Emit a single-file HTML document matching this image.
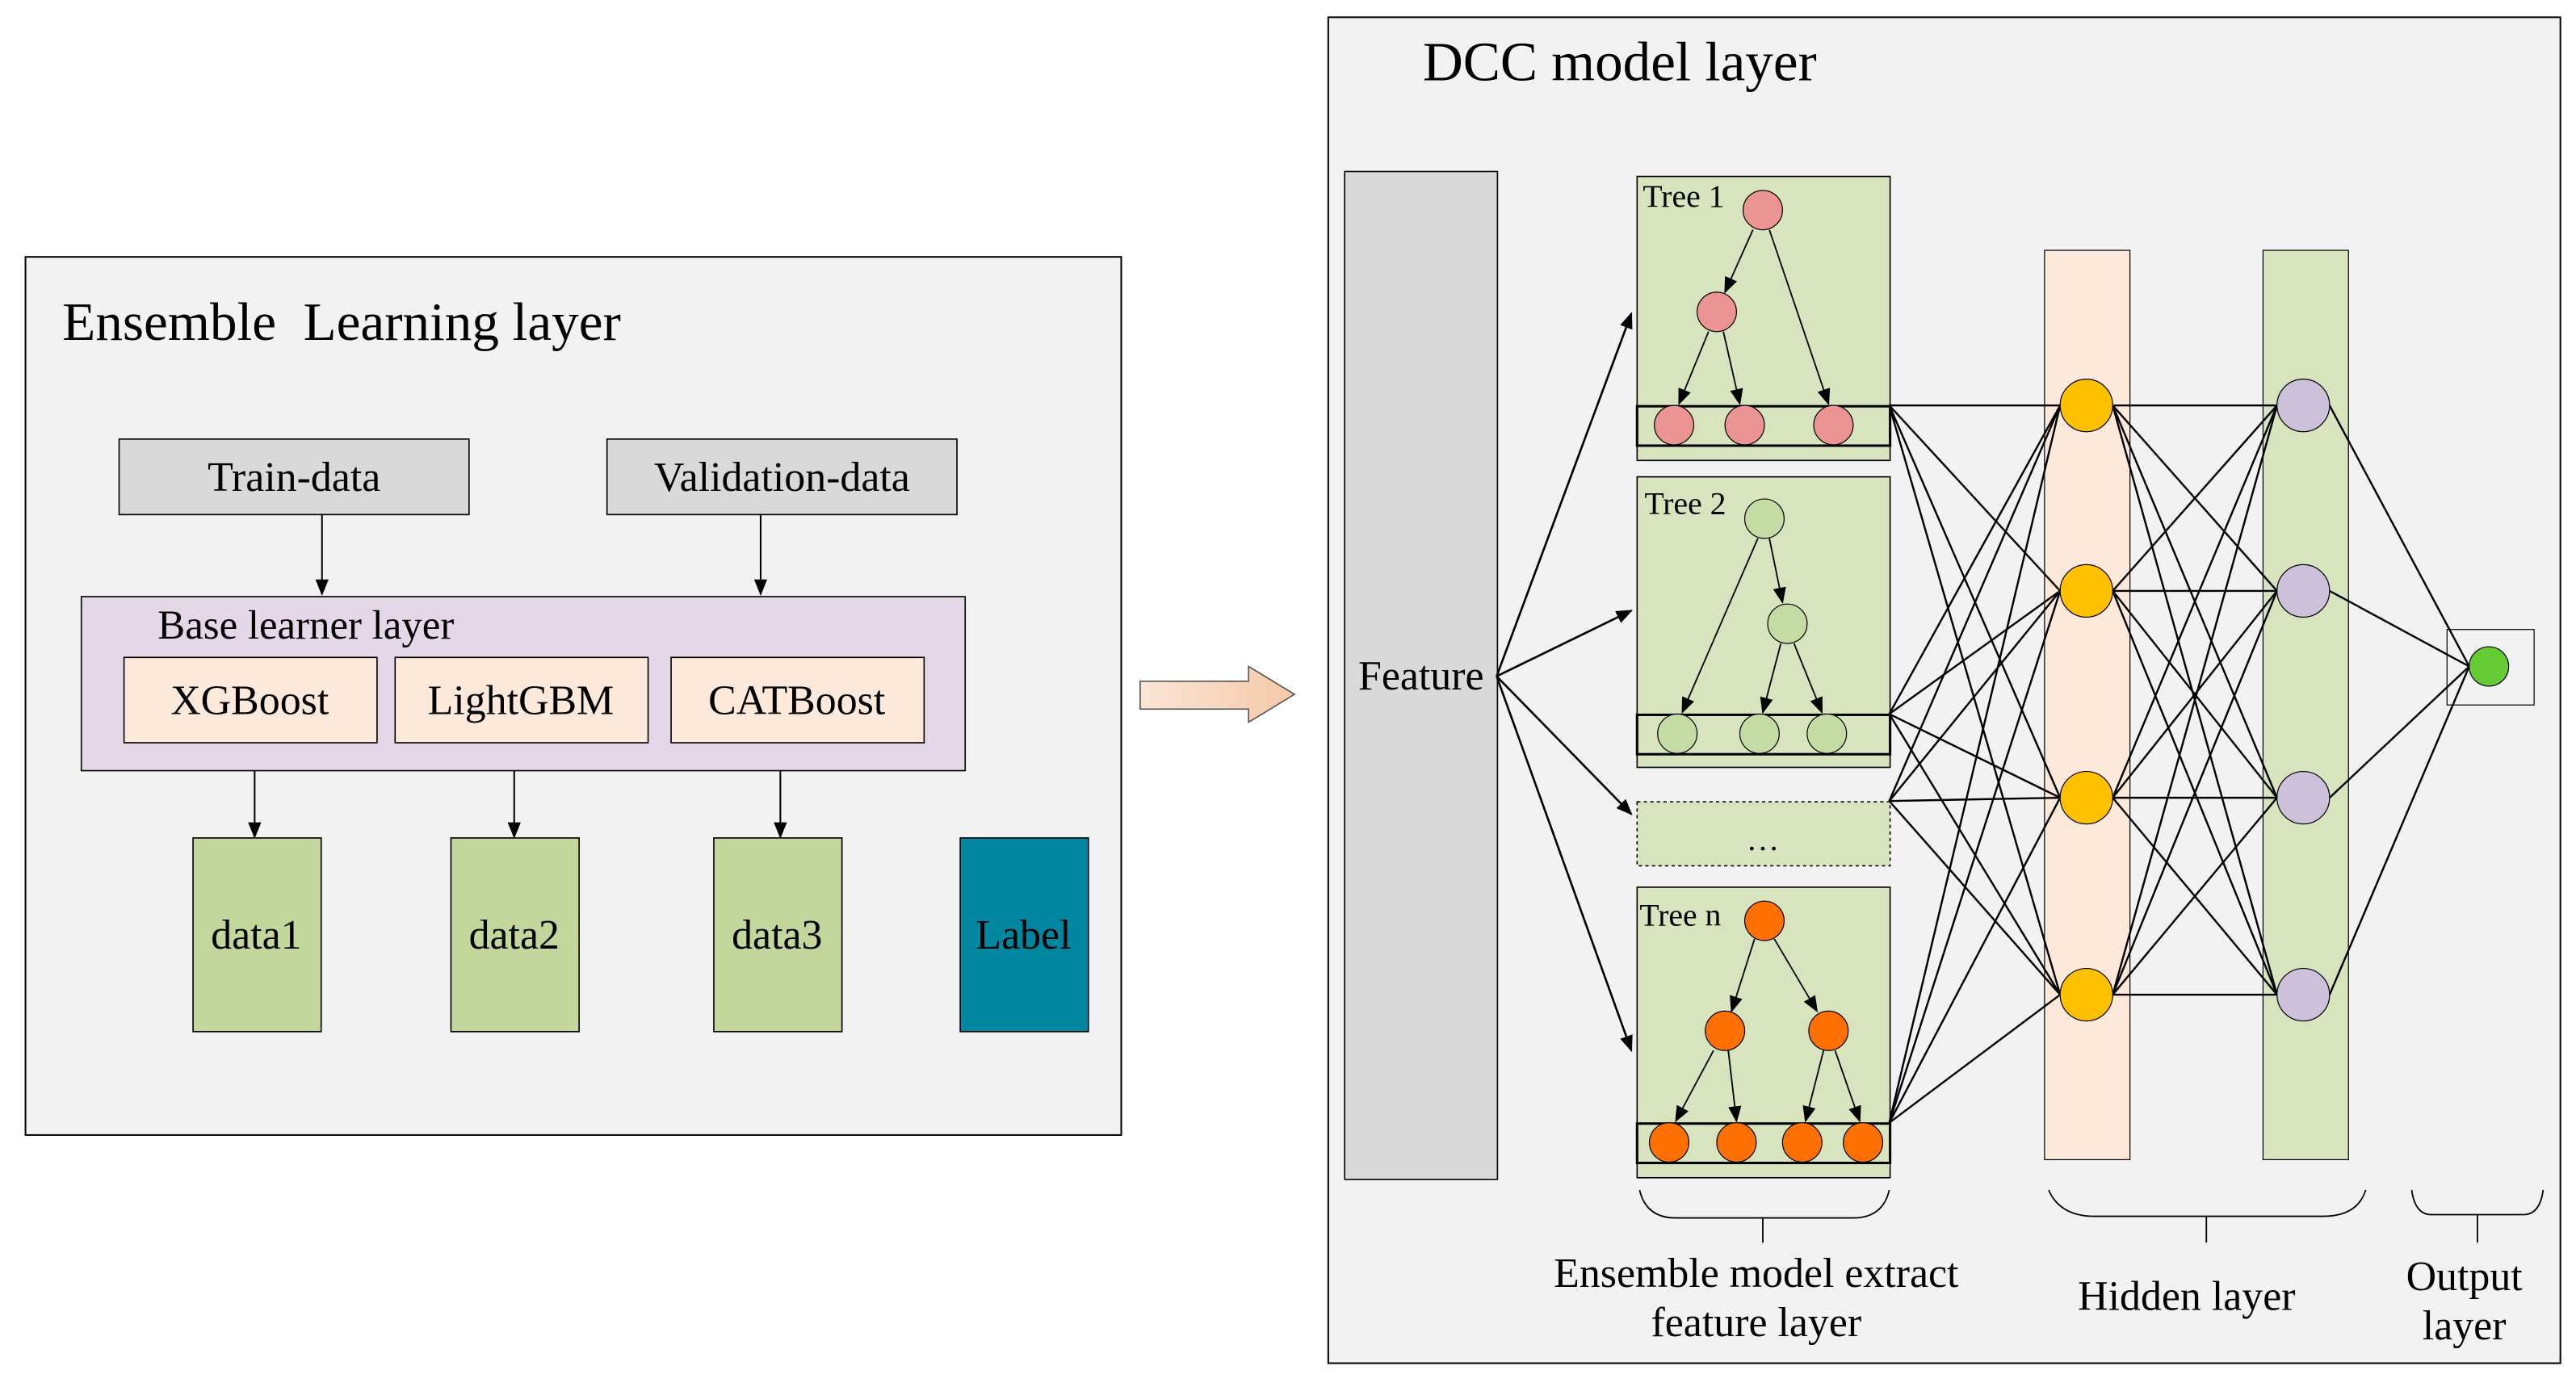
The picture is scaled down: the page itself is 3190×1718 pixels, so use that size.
<!DOCTYPE html>
<html><head><meta charset="utf-8"><style>html,body{margin:0;padding:0;background:#fff}svg{display:block}</style></head>
<body>
<svg width="3190" height="1718" viewBox="0 0 1568 845" preserveAspectRatio="none" xmlns="http://www.w3.org/2000/svg" font-family="Liberation Serif, serif">
<defs>
<marker id="a" markerWidth="10" markerHeight="8" refX="9" refY="4" orient="auto" markerUnits="userSpaceOnUse"><path d="M0,0 L10,4 L0,8 z" fill="#000"/></marker>
<linearGradient id="g" x1="0" x2="1"><stop offset="0" stop-color="#fbe5d6"/><stop offset="1" stop-color="#f4c9a8"/></linearGradient>
</defs>
<rect width="1568" height="845" fill="#fff"/>
<rect x="15.5" y="156.5" width="667" height="535" fill="#f2f2f2" stroke="#000"/>
<text x="38" y="207" font-size="33">Ensemble&#160; Learning layer</text>
<rect x="72.5" y="267.5" width="213" height="46" fill="#d9d9d9" stroke="#000" stroke-width="0.8"/>
<text x="179" y="299" font-size="25.5" text-anchor="middle">Train-data</text>
<rect x="369.5" y="267.5" width="213" height="46" fill="#d9d9d9" stroke="#000" stroke-width="0.8"/>
<text x="476" y="299" font-size="25.5" text-anchor="middle">Validation-data</text>
<g stroke="#000" stroke-width="1" marker-end="url(#a)">
<line x1="196" y1="313" x2="196" y2="362"/><line x1="463" y1="313" x2="463" y2="362"/>
<line x1="155" y1="452" x2="155" y2="510"/><line x1="313" y1="452" x2="313" y2="510"/><line x1="475" y1="452" x2="475" y2="510"/>
</g>
<rect x="49.5" y="363.5" width="538" height="106" fill="#e4d7e8" stroke="#000" stroke-width="0.8"/>
<text x="96" y="389" font-size="25">Base learner layer</text>
<rect x="75.5" y="400.5" width="154" height="52" fill="#fde9d9" stroke="#000" stroke-width="0.8"/>
<text x="152" y="435" font-size="25.5" text-anchor="middle">XGBoost</text>
<rect x="240.5" y="400.5" width="154" height="52" fill="#fde9d9" stroke="#000" stroke-width="0.8"/>
<text x="317" y="435" font-size="25.5" text-anchor="middle">LightGBM</text>
<rect x="408.5" y="400.5" width="154" height="52" fill="#fde9d9" stroke="#000" stroke-width="0.8"/>
<text x="485" y="435" font-size="25.5" text-anchor="middle">CATBoost</text>
<rect x="117.5" y="510.5" width="78" height="118" fill="#c3d69b" stroke="#000" stroke-width="0.8"/>
<text x="156" y="578" font-size="25.5" text-anchor="middle">data1</text>
<rect x="274.5" y="510.5" width="78" height="118" fill="#c3d69b" stroke="#000" stroke-width="0.8"/>
<text x="313" y="578" font-size="25.5" text-anchor="middle">data2</text>
<rect x="434.5" y="510.5" width="78" height="118" fill="#c3d69b" stroke="#000" stroke-width="0.8"/>
<text x="473" y="578" font-size="25.5" text-anchor="middle">data3</text>
<rect x="584.5" y="510.5" width="78" height="118" fill="#00869e" stroke="#000" stroke-width="0.8"/>
<text x="623" y="578" font-size="25.5" text-anchor="middle">Label</text>
<path d="M694,415 L760,415 L760,406 L788,423 L760,440 L760,432 L694,432 z" fill="url(#g)" stroke="#555" stroke-width="0.8"/>
<rect x="808.5" y="10.5" width="750" height="820" fill="#f2f2f2" stroke="#000"/>
<text x="866" y="49" font-size="34">DCC model layer</text>
<rect x="818.5" y="104.5" width="93" height="614" fill="#d9d9d9" stroke="#000" stroke-width="0.8"/>
<text x="865" y="420" font-size="25.5" text-anchor="middle">Feature</text>
<g stroke="#000" stroke-width="1.3" marker-end="url(#a)">
<line x1="911" y1="412" x2="993" y2="191"/><line x1="911" y1="412" x2="993" y2="372"/>
<line x1="911" y1="412" x2="993" y2="496"/><line x1="911" y1="412" x2="993" y2="640"/>
</g>
<rect x="996.5" y="107.5" width="154" height="173" fill="#d7e4bd" stroke="#000" stroke-width="0.8"/>
<rect x="996.5" y="247.5" width="154" height="24" fill="none" stroke="#000" stroke-width="1.5"/>
<text x="1000" y="126" font-size="19.5">Tree 1</text>
<g stroke="#000" stroke-width="0.9" marker-end="url(#a)">
<line x1="1067" y1="140" x2="1050" y2="178"/><line x1="1077" y1="140" x2="1113" y2="246"/>
<line x1="1040" y1="202" x2="1022" y2="246"/><line x1="1049" y1="202" x2="1059" y2="246"/>
</g>
<g fill="#ec9494" stroke="#000" stroke-width="0.6">
<circle cx="1073" cy="128" r="12"/><circle cx="1045" cy="190" r="12"/>
<circle cx="1019" cy="259" r="12"/><circle cx="1062" cy="259" r="12"/><circle cx="1116" cy="259" r="12"/>
</g>
<rect x="996.5" y="290.5" width="154" height="177" fill="#d7e4bd" stroke="#000" stroke-width="0.8"/>
<rect x="996.5" y="435.5" width="154" height="24" fill="none" stroke="#000" stroke-width="1.5"/>
<text x="1001" y="313" font-size="19.5">Tree 2</text>
<g stroke="#000" stroke-width="0.9" marker-end="url(#a)">
<line x1="1077" y1="328" x2="1085" y2="367"/><line x1="1070" y1="328" x2="1024" y2="434"/>
<line x1="1084" y1="392" x2="1073" y2="434"/><line x1="1092" y1="392" x2="1109" y2="434"/>
</g>
<g fill="#c4dba4" stroke="#000" stroke-width="0.6">
<circle cx="1074" cy="316" r="12"/><circle cx="1088" cy="380" r="12"/>
<circle cx="1021" cy="447" r="12"/><circle cx="1071" cy="447" r="12"/><circle cx="1112" cy="447" r="12"/>
</g>
<rect x="996.5" y="488.5" width="154" height="39" fill="#d7e4bd" stroke="#000" stroke-width="0.8" stroke-dasharray="2,2"/>
<text x="1073" y="518" font-size="20" text-anchor="middle">…</text>
<rect x="996.5" y="540.5" width="154" height="177" fill="#d7e4bd" stroke="#000" stroke-width="0.8"/>
<rect x="996.5" y="684.5" width="154" height="24" fill="none" stroke="#000" stroke-width="1.5"/>
<text x="998" y="564" font-size="19.5">Tree n</text>
<g stroke="#000" stroke-width="0.9" marker-end="url(#a)">
<line x1="1068" y1="572" x2="1054" y2="616"/><line x1="1080" y1="572" x2="1106" y2="616"/>
<line x1="1043" y1="640" x2="1020" y2="683"/><line x1="1052" y1="640" x2="1057" y2="683"/>
<line x1="1110" y1="640" x2="1099" y2="683"/><line x1="1117" y1="640" x2="1132" y2="683"/>
</g>
<g fill="#ff7000" stroke="#000" stroke-width="0.6">
<circle cx="1074" cy="561" r="12"/><circle cx="1050" cy="628" r="12"/><circle cx="1113" cy="628" r="12"/>
<circle cx="1016" cy="696" r="12"/><circle cx="1057" cy="696" r="12"/><circle cx="1097" cy="696" r="12"/><circle cx="1134" cy="696" r="12"/>
</g>
<rect x="1244.5" y="152.5" width="52" height="554" fill="#fde9d9" stroke="#000" stroke-width="0.6"/>
<rect x="1377.5" y="152.5" width="52" height="554" fill="#d7e4bd" stroke="#000" stroke-width="0.6"/>
<rect x="1489.5" y="383.5" width="53" height="46" fill="none" stroke="#000" stroke-width="0.6"/>
<g stroke="#000" stroke-width="1.2">
<path d="M1150,247 L1254,247 M1150,247 L1254,360 M1150,247 L1254,486 M1150,247 L1254,606
M1150,435 L1254,247 M1150,435 L1254,360 M1150,435 L1254,486 M1150,435 L1254,606
M1150,488 L1254,247 M1150,488 L1254,360 M1150,488 L1254,486 M1150,488 L1254,606
M1150,684 L1254,247 M1150,684 L1254,360 M1150,684 L1254,486 M1150,684 L1254,606"/>
<path d="M1286,247 L1386,247 M1286,247 L1386,360 M1286,247 L1386,486 M1286,247 L1386,606
M1286,360 L1386,247 M1286,360 L1386,360 M1286,360 L1386,486 M1286,360 L1386,606
M1286,486 L1386,247 M1286,486 L1386,360 M1286,486 L1386,486 M1286,486 L1386,606
M1286,606 L1386,247 M1286,606 L1386,360 M1286,606 L1386,486 M1286,606 L1386,606"/>
<path d="M1418,247 L1503,406 M1418,360 L1503,406 M1418,486 L1503,406 M1418,606 L1503,406"/>
</g>
<g fill="#ffc000" stroke="#000" stroke-width="0.6">
<circle cx="1270" cy="247" r="16"/><circle cx="1270" cy="360" r="16"/><circle cx="1270" cy="486" r="16"/><circle cx="1270" cy="606" r="16"/>
</g>
<g fill="#ccc0da" stroke="#000" stroke-width="0.6">
<circle cx="1402" cy="247" r="16"/><circle cx="1402" cy="360" r="16"/><circle cx="1402" cy="486" r="16"/><circle cx="1402" cy="606" r="16"/>
</g>
<circle cx="1515" cy="406" r="12" fill="#66cc33" stroke="#000" stroke-width="0.6"/>
<g fill="none" stroke="#000" stroke-width="0.9">
<path d="M998,725 Q1002,742 1020,742 L1128,742 Q1146,742 1150,725"/><line x1="1073" y1="742" x2="1073" y2="757"/>
<path d="M1247,725 Q1254,741 1275,741 L1414,741 Q1435,741 1440,725"/><line x1="1343" y1="741" x2="1343" y2="757"/>
<path d="M1468,725 Q1470,740 1480,740 L1536,740 Q1546,740 1548,725"/><line x1="1508" y1="740" x2="1508" y2="757"/>
</g>
<text x="1069" y="784" font-size="25.5" text-anchor="middle">Ensemble model extract</text>
<text x="1069" y="814" font-size="25.5" text-anchor="middle">feature layer</text>
<text x="1331" y="798" font-size="25.5" text-anchor="middle">Hidden layer</text>
<text x="1500" y="786" font-size="25.5" text-anchor="middle">Output</text>
<text x="1500" y="816" font-size="25.5" text-anchor="middle">layer</text>
</svg>
</body></html>
